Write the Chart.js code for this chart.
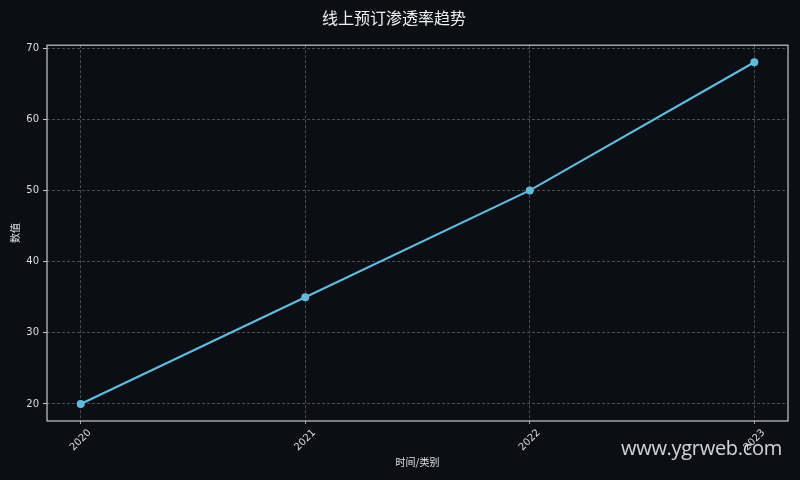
<!DOCTYPE html>
<html>
<head>
<meta charset="utf-8">
<script src="https://cdn.jsdelivr.net/npm/chart.js@4"></script>
<style>
  html, body { margin: 0; padding: 0; background: #0b0e14; }
  #wrap { position: relative; width: 800px; height: 480px; background: #0b0e14; }
  #wm { position: absolute; left: 621px; top: 434px; font-family: "Open Sans", "Noto Sans", sans-serif; font-size: 20px; color: rgba(255,255,255,0.82); letter-spacing: -0.3px; pointer-events: none; }
</style>
</head>
<body>
<div id="wrap">
  <canvas id="c" width="800" height="480"></canvas>
  <div id="wm">www.ygrweb.com</div>
</div>
<script>
const categories = ["2020", "2021", "2022", "2023"];
const values = [20, 35, 50, 68];
const yTicks = [20, 30, 40, 50, 60, 70];
const chartTitle = "线上预订渗透率趋势";
const xTitle = "时间/类别";
const yTitle = "数值";

const CJK = '"Noto Sans CJK SC", "DejaVu Sans", sans-serif';
const TICKF = '"DejaVu Sans", sans-serif';

const frame = {
  id: 'frame',
  afterDatasetsDraw(chart) {
    const a = chart.chartArea, ctx = chart.ctx;
    ctx.save();
    ctx.strokeStyle = '#c8c8c8';
    ctx.lineWidth = 1.2;
    ctx.strokeRect(a.left, a.top, a.right - a.left, a.bottom - a.top);
    ctx.restore();
  }
};

new Chart(document.getElementById('c'), {
  type: 'line',
  data: {
    datasets: [{
      data: values.map((v, i) => ({ x: i, y: v })),
      borderColor: '#62bbdb',
      backgroundColor: '#62bbdb',
      borderWidth: 2.2,
      pointRadius: 4,
      pointBorderWidth: 0,
      pointHoverRadius: 4,
      tension: 0
    }]
  },
  options: {
    responsive: false,
    animation: false,
    devicePixelRatio: 1,
    layout: { padding: { left: 0, right: 12, top: 0, bottom: 0 } },
    plugins: {
      legend: { display: false },
      tooltip: { enabled: false },
      title: {
        display: true,
        text: chartTitle,
        color: '#f0f0f0',
        font: { family: CJK, size: 16, weight: 'normal' },
        padding: { top: 8, bottom: 18 }
      }
    },
    scales: {
      x: {
        type: 'linear',
        min: -0.15,
        max: 3.15,
        afterBuildTicks(s) { s.ticks = categories.map((c, i) => ({ value: i })); },
        afterFit(s) { s.height = 59; },
        ticks: {
          color: '#dddddd',
          font: { family: TICKF, size: 10 },
          maxRotation: 45,
          minRotation: 45,
          labelOffset: 9,
          padding: 2,
          callback: (v) => categories[v]
        },
        grid: {
          color: 'rgba(120,120,120,0.6)',
          tickBorderDash: [3, 2],
          tickColor: 'rgba(200,200,200,0.8)',
          tickLength: 4,
          drawTicks: true
        },
        border: { display: false, dash: [3, 2] },
        title: {
          display: true,
          text: xTitle,
          color: '#e0e0e0',
          font: { family: CJK, size: 10 },
          padding: { top: 0, bottom: 12 }
        }
      },
      y: {
        type: 'linear',
        min: 17.6,
        max: 70.4,
        afterBuildTicks(s) { s.ticks = yTicks.map(v => ({ value: v })); },
        afterFit(s) { s.width = 47; },
        ticks: {
          color: '#dddddd',
          font: { family: TICKF, size: 10 },
          padding: 4
        },
        grid: {
          color: 'rgba(120,120,120,0.6)',
          tickBorderDash: [],
          tickColor: '#c8c8c8',
          tickLength: 4
        },
        border: { display: false, dash: [3, 2] },
        title: {
          display: true,
          text: yTitle,
          color: '#e0e0e0',
          font: { family: CJK, size: 10 },
          padding: { top: 9, bottom: 0 }
        }
      }
    }
  },
  plugins: [frame]
});
</script>
</body>
</html>
